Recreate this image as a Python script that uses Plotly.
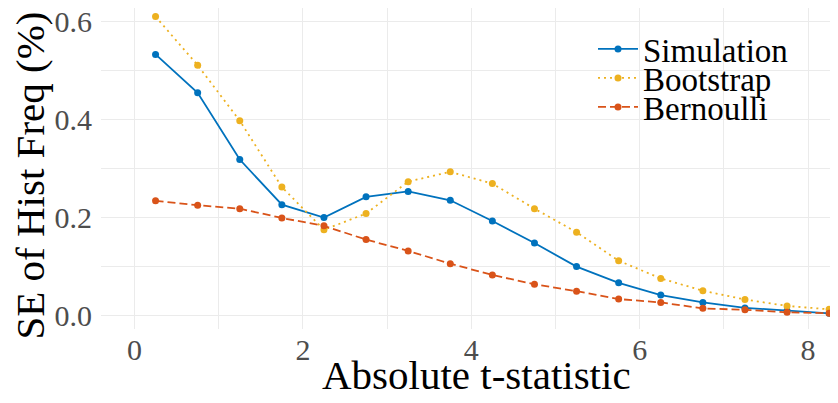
import plotly.graph_objects as go

t_stat = [0.25, 0.75, 1.25, 1.75, 2.25, 2.75, 3.25, 3.75, 4.25,
          4.75, 5.25, 5.75, 6.25, 6.75, 7.25, 7.75, 8.25]
simulation = [0.532, 0.454, 0.318, 0.226, 0.200, 0.242, 0.253, 0.235, 0.193,
              0.148, 0.100, 0.067, 0.042, 0.027, 0.016, 0.010, 0.005]
bootstrap = [0.609, 0.510, 0.397, 0.262, 0.175, 0.208, 0.273, 0.293, 0.269,
             0.218, 0.170, 0.112, 0.076, 0.051, 0.033, 0.020, 0.013]
bernoulli = [0.234, 0.225, 0.218, 0.199, 0.183, 0.155, 0.132, 0.106, 0.083,
             0.064, 0.050, 0.034, 0.027, 0.015, 0.012, 0.007, 0.005]

x_ticks = [0, 2, 4, 6, 8]
x_tick_labels = ["0", "2", "4", "6", "8"]
y_ticks = [0.0, 0.2, 0.4, 0.6]
y_tick_labels = ["0.0", "0.2", "0.4", "0.6"]
x_title = "Absolute t-statistic"
y_title = "SE of Hist Freq (%)"

series_names = ["Simulation", "Bootstrap", "Bernoulli"]
series_values = [simulation, bootstrap, bernoulli]
series_colors = ["#0072BD", "#EDB120", "#D95319"]
series_dash = ["solid", "2px,4px", "8px,4px"]
series_legend = ["legend", "legend2", "legend3"]

FONT = "Palatino, 'Palatino Linotype', 'Liberation Serif', serif"

# page has an 8px body margin: figure occupies page px 8..838 x 8..403
OFF = 8
W, H = 838 - OFF, 403 - OFF
ml, mr, mt, mb = 101 - OFF, 0, 0, 403 - 329
ph = H - mt - mb
pw = W - ml - mr


def py(page_y):
    return (H - mb - (page_y - OFF)) / ph


def px(page_x):
    return ((page_x - OFF) - ml) / pw


fig = go.Figure()
for name, vals, col, dash, lg in zip(series_names, series_values, series_colors,
                                     series_dash, series_legend):
    fig.add_trace(go.Scatter(
        x=t_stat, y=vals, name=name, mode="lines+markers",
        line=dict(color=col, width=1.8, dash=dash),
        marker=dict(color=col, size=7),
        legend=lg,
    ))

legend_common = dict(
    font=dict(family=FONT, size=33, color="#000000"),
    bgcolor="rgba(0,0,0,0)", borderwidth=0,
    xanchor="left", yanchor="middle", itemwidth=40,
)

fig.update_layout(
    width=W, height=H,
    margin=dict(l=ml, r=mr, t=mt, b=mb, autoexpand=False),
    paper_bgcolor="white", plot_bgcolor="white",
    font=dict(family=FONT, color="#000000"),
    showlegend=True,
    legend=dict(x=px(593), y=py(49), **legend_common),
    legend2=dict(x=px(593), y=py(78), **legend_common),
    legend3=dict(x=px(593), y=py(107), **legend_common),
    xaxis=dict(
        range=[-0.398, 8.355],
        tickvals=x_ticks, ticktext=x_tick_labels,
        tickfont=dict(family=FONT, size=30, color="#4D4D4D"),
        showgrid=True, gridcolor="#EBEBEB", gridwidth=1.3,
        minor=dict(dtick=1, tick0=0, showgrid=True, gridcolor="#EBEBEB", gridwidth=0.8),
        zeroline=False, showline=False, ticks="", ticklabelstandoff=0,
        ticklabeloverflow="allow",
        automargin=False,
    ),
    yaxis=dict(
        range=[-0.027, 0.6265],
        tickvals=y_ticks, ticktext=y_tick_labels,
        tickfont=dict(family=FONT, size=30, color="#4D4D4D"),
        showgrid=True, gridcolor="#EBEBEB", gridwidth=1.3,
        minor=dict(dtick=0.1, tick0=0, showgrid=True, gridcolor="#EBEBEB", gridwidth=0.8),
        zeroline=False, showline=False, ticks="", ticklabelstandoff=8,
        ticklabeloverflow="allow",
        automargin=False,
    ),
    annotations=[
        dict(text=x_title, xref="paper", yref="paper",
             x=px(476), y=py(388 - 13), xanchor="center", yanchor="middle",
             showarrow=False, font=dict(family=FONT, size=41, color="#000000")),
        dict(text=y_title, xref="paper", yref="paper", textangle=-90,
             x=px(29), y=py(175.5), xanchor="center", yanchor="middle",
             showarrow=False, font=dict(family=FONT, size=41, color="#000000")),
    ],
)

fig.write_html("out.html")
